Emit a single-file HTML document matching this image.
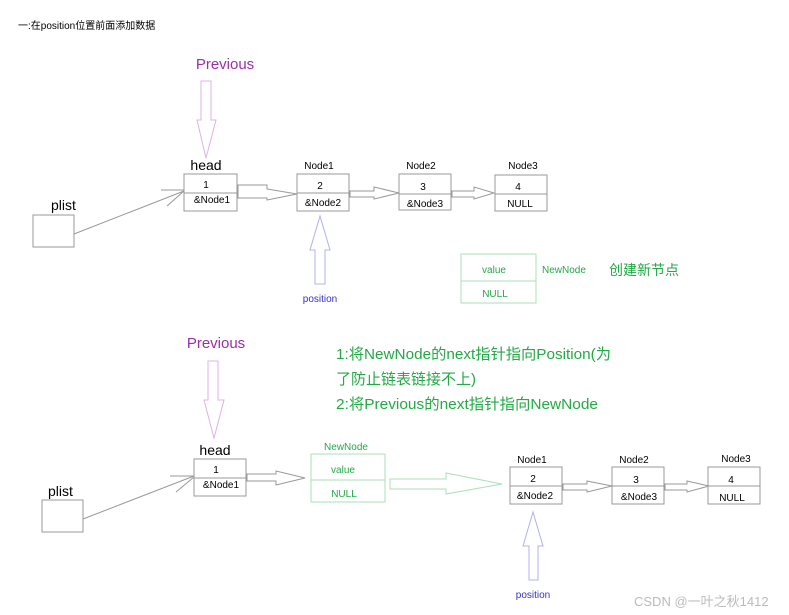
<!DOCTYPE html>
<html><head><meta charset="utf-8"><style>
html,body{margin:0;padding:0;background:#fff;}
svg{display:block;}
text{font-family:"Liberation Sans","Noto Sans CJK SC",sans-serif;}
</style></head><body>
<svg width="789" height="615" viewBox="0 0 789 615" xmlns="http://www.w3.org/2000/svg">
<g font-size="10" fill="#000">
<text x="18" y="29" font-size="10">一:在position位置前面添加数据</text>
</g>

<!-- TOP -->
<text x="225" y="69" font-size="15" fill="#9b2fa7" text-anchor="middle">Previous</text>
<polygon points="201,81 211,81 211,120 216,120 206,158 197,120 201,120" fill="none" stroke="#e0b0e8" stroke-width="1"/>
<text x="206" y="170" font-size="14" text-anchor="middle">head</text>
<rect x="184" y="174" width="53" height="37" fill="#fff" stroke="#999"/>
<line x1="184" y1="193" x2="237" y2="193" stroke="#999"/>
<text x="206" y="188" font-size="10" text-anchor="middle">1</text>
<text x="212" y="203" font-size="10" text-anchor="middle">&amp;Node1</text>
<text x="51" y="210" font-size="14">plist</text>
<rect x="33" y="215" width="41" height="32" fill="#fff" stroke="#999"/>
<line x1="74" y1="234" x2="184" y2="191" stroke="#999"/>
<line x1="161" y1="190" x2="184" y2="190" stroke="#999"/>
<line x1="167" y1="206" x2="184" y2="191" stroke="#999"/>
<polygon points="238,185 267,185 267,189 297,194 267,200 267,198 238,198" fill="none" stroke="#999"/>
<text x="319" y="169" font-size="10" text-anchor="middle">Node1</text>
<rect x="297" y="174" width="52" height="37" fill="#fff" stroke="#999"/>
<line x1="297" y1="193" x2="349" y2="193" stroke="#999"/>
<text x="320" y="189" font-size="10" text-anchor="middle">2</text>
<text x="323" y="206" font-size="10" text-anchor="middle">&amp;Node2</text>
<polygon points="350,191 374,191 374,187 399,193 374,199 374,197 350,197" fill="none" stroke="#999"/>
<text x="421" y="169" font-size="10" text-anchor="middle">Node2</text>
<rect x="399" y="174" width="52" height="36" fill="#fff" stroke="#999"/>
<line x1="399" y1="194" x2="451" y2="194" stroke="#999"/>
<text x="423" y="190" font-size="10" text-anchor="middle">3</text>
<text x="425" y="207" font-size="10" text-anchor="middle">&amp;Node3</text>
<polygon points="452,191 474,191 474,187 494,193 474,199 474,197 452,197" fill="none" stroke="#999"/>
<text x="523" y="169" font-size="10" text-anchor="middle">Node3</text>
<rect x="495" y="175" width="52" height="36" fill="#fff" stroke="#999"/>
<line x1="495" y1="194" x2="547" y2="194" stroke="#999"/>
<text x="518" y="190" font-size="10" text-anchor="middle">4</text>
<text x="520" y="207" font-size="10" text-anchor="middle">NULL</text>
<polygon points="320,216 330,250 325,250 325,284 315,284 315,250 310,250" fill="none" stroke="#b0b0f0"/>
<text x="320" y="302" font-size="10" fill="#3333cc" text-anchor="middle">position</text>

<rect x="461" y="254" width="75" height="49" fill="#fff" stroke="#a8e0b8"/>
<line x1="461" y1="281" x2="536" y2="281" stroke="#a8e0b8"/>
<text x="494" y="273" font-size="10" fill="#22aa44" text-anchor="middle">value</text>
<text x="495" y="297" font-size="10" fill="#22aa44" text-anchor="middle">NULL</text>
<text x="542" y="273" font-size="10" fill="#22aa44">NewNode</text>
<text x="609" y="275" font-size="14" fill="#22aa44">创建新节点</text>

<!-- BOTTOM -->
<text x="216" y="348" font-size="15" fill="#9b2fa7" text-anchor="middle">Previous</text>
<polygon points="208,361 218,361 218,400 224,400 214,438 204,400 208,400" fill="none" stroke="#e0b0e8"/>
<text x="215" y="455" font-size="14" text-anchor="middle">head</text>
<rect x="194" y="459" width="52" height="37" fill="#fff" stroke="#999"/>
<line x1="194" y1="478" x2="246" y2="478" stroke="#999"/>
<text x="216" y="473" font-size="10" text-anchor="middle">1</text>
<text x="221" y="488" font-size="10" text-anchor="middle">&amp;Node1</text>
<text x="48" y="496" font-size="14">plist</text>
<rect x="42" y="500" width="41" height="32" fill="#fff" stroke="#999"/>
<line x1="83" y1="519" x2="194" y2="476" stroke="#999"/>
<line x1="170" y1="476" x2="194" y2="476" stroke="#999"/>
<line x1="176" y1="492" x2="194" y2="477" stroke="#999"/>
<polygon points="247,474 276,474 276,471 305,478 276,485 276,481 247,481" fill="none" stroke="#999"/>
<text x="346" y="450" font-size="10" fill="#22aa44" text-anchor="middle">NewNode</text>
<rect x="311" y="454" width="74" height="48" fill="#fff" stroke="#a8e0b8"/>
<line x1="311" y1="480" x2="385" y2="480" stroke="#a8e0b8"/>
<text x="343" y="473" font-size="10" fill="#22aa44" text-anchor="middle">value</text>
<text x="344" y="497" font-size="10" fill="#22aa44" text-anchor="middle">NULL</text>
<polygon points="390,479 446,479 446,473 502,484 446,494 446,489 390,489" fill="none" stroke="#a8e0b8"/>
<text x="532" y="463" font-size="10" text-anchor="middle">Node1</text>
<rect x="510" y="467" width="52" height="37" fill="#fff" stroke="#999"/>
<line x1="510" y1="486" x2="562" y2="486" stroke="#999"/>
<text x="533" y="482" font-size="10" text-anchor="middle">2</text>
<text x="535" y="499" font-size="10" text-anchor="middle">&amp;Node2</text>
<polygon points="563,484 587,484 587,481 612,486 587,492 587,490 563,490" fill="none" stroke="#999"/>
<text x="634" y="463" font-size="10" text-anchor="middle">Node2</text>
<rect x="612" y="467" width="52" height="37" fill="#fff" stroke="#999"/>
<line x1="612" y1="486" x2="664" y2="486" stroke="#999"/>
<text x="636" y="483" font-size="10" text-anchor="middle">3</text>
<text x="639" y="500" font-size="10" text-anchor="middle">&amp;Node3</text>
<polygon points="665,484 687,484 687,481 709,486 687,492 687,490 665,490" fill="none" stroke="#999"/>
<text x="736" y="462" font-size="10" text-anchor="middle">Node3</text>
<rect x="708" y="467" width="52" height="37" fill="#fff" stroke="#999"/>
<line x1="708" y1="486" x2="760" y2="486" stroke="#999"/>
<text x="731" y="483" font-size="10" text-anchor="middle">4</text>
<text x="732" y="501" font-size="10" text-anchor="middle">NULL</text>
<polygon points="533,512 543,546 538,546 538,580 529,580 529,546 523,546" fill="none" stroke="#b0b0f0"/>
<text x="533" y="598" font-size="10" fill="#3333cc" text-anchor="middle">position</text>

<g font-size="15" fill="#22aa44">
<text x="336" y="359" textLength="275" lengthAdjust="spacingAndGlyphs">1:将NewNode的next指针指向Position(为</text>
<text x="336" y="384">了防止链表链接不上)</text>
<text x="336" y="409" textLength="262" lengthAdjust="spacingAndGlyphs">2:将Previous的next指针指向NewNode</text>
</g>
<rect x="612" y="346" width="10" height="20" fill="#fff"/>
<text x="634" y="606" font-size="13" fill="#bbb">CSDN @一叶之秋1412</text>
</svg>
</body></html>
